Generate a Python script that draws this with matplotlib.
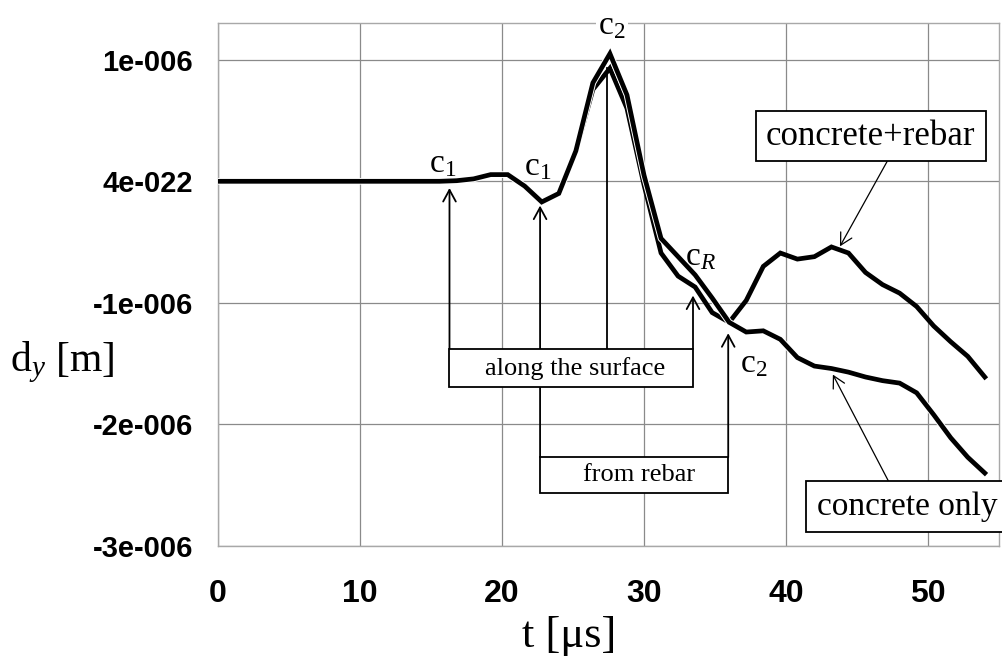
import matplotlib
matplotlib.use("Agg")
import matplotlib.pyplot as plt
from matplotlib.patches import Rectangle
import matplotlib.patheffects as pe

plt.rcParams['mathtext.fontset'] = 'custom'
plt.rcParams['mathtext.rm'] = 'Liberation Serif'
plt.rcParams['mathtext.it'] = 'Liberation Serif:italic'
plt.rcParams['mathtext.bf'] = 'Liberation Serif:bold'

# ---- data (displacement in units of 1e-6 m) ----
t_us = [0.0, 1.2, 2.4, 3.6, 4.8, 6.0, 7.2, 8.4, 9.6, 10.8, 12.0, 13.2, 14.4, 15.6,
        16.8, 18.0, 19.2, 20.4, 21.6, 22.8, 24.0, 25.2, 26.4, 27.6, 28.8, 30.0,
        31.2, 32.4, 33.6, 34.8, 36.0, 37.2, 38.4, 39.6, 40.8, 42.0, 43.2, 44.4,
        45.6, 46.8, 48.0, 49.2, 50.4, 51.6, 52.8, 54.0]

concrete_rebar = [0, 0, 0, 0, 0, 0, 0, 0, 0, 0, 0, 0, 0, 0,
                  0.005, 0.02, 0.055, 0.055, -0.04, -0.17, -0.10, 0.25, 0.755, 0.93, 0.60, -0.03,
                  -0.59, -0.78, -0.87, -1.08, -1.16, -0.98, -0.70, -0.59, -0.64, -0.62, -0.54, -0.59,
                  -0.75, -0.85, -0.92, -1.03, -1.19, -1.32, -1.44, -1.61]

concrete_only = [0, 0, 0, 0, 0, 0, 0, 0, 0, 0, 0, 0, 0, 0,
                 0.005, 0.02, 0.055, 0.055, -0.04, -0.17, -0.10, 0.25, 0.81, 1.05, 0.71, 0.05,
                 -0.47, -0.62, -0.77, -0.96, -1.16, -1.24, -1.23, -1.30, -1.45, -1.52, -1.54, -1.57,
                 -1.61, -1.64, -1.66, -1.74, -1.92, -2.11, -2.27, -2.40]

x_ticks = [0, 10, 20, 30, 40, 50]
y_ticks = [1, 0, -1, -2, -3]
y_tick_labels = ['1e-006', '4e-022', '-1e-006', '-2e-006', '-3e-006']

SERIF = 'Liberation Serif'
SANS = 'Liberation Sans'

fig = plt.figure(figsize=(10.02, 6.61), dpi=100)
ax = fig.add_axes([0.2176, 0.1740, 0.7794, 0.7908])
ax.set_xlim(0, 55)
ax.set_ylim(-3, 1.3)

ax.set_xticks(x_ticks)
ax.set_xticklabels([str(v) for v in x_ticks], fontfamily=SANS, fontsize=23,
                   fontweight='bold')
ax.set_yticks(y_ticks)
ax.set_yticklabels(y_tick_labels, fontfamily=SANS, fontsize=21, fontweight='bold')
ax.tick_params(axis='both', length=0)
ax.tick_params(axis='y', pad=18)
ax.tick_params(axis='x', pad=24)
ax.grid(True, color='#8a8a8a', lw=0.9)
ax.set_axisbelow(True)
for s in ax.spines.values():
    s.set_color('#a8a8a8')
    s.set_linewidth(1.0)

# curves
ax.plot(t_us, concrete_rebar, color='black', lw=3.4, solid_joinstyle='miter', zorder=4)
ax.plot(t_us, concrete_only, color='black', lw=3.4, solid_joinstyle='miter', zorder=4,
        path_effects=[pe.Stroke(linewidth=4.8, foreground='white'), pe.Normal()])

# axis labels
fig.text(10 / 1002, 1 - 362 / 661, r'd$_y$ [m]', fontfamily=SERIF, fontsize=30,
         ha='left', va='center')
fig.text(569 / 1002, 0.038, 't [μs]', fontfamily=SERIF, fontsize=32,
         ha='center', va='center')

# boxes
def box(x0, x1, y0, y1):
    r = Rectangle((x0, y0), x1 - x0, y1 - y0, facecolor='white', edgecolor='black',
                  lw=1.3, zorder=6, clip_on=False)
    ax.add_patch(r)

box(16.3, 33.45, -1.694, -1.38)
ax.text(25.16, -1.54, 'along the surface', fontfamily=SERIF, fontsize=19,
        ha='center', va='center', zorder=7)
box(22.68, 35.93, -2.562, -2.27)
ax.text(29.64, -2.42, 'from rebar', fontfamily=SERIF, fontsize=19,
        ha='center', va='center', zorder=7)
box(37.87, 54.1, 0.165, 0.577)
ax.text(45.95, 0.37, 'concrete+rebar', fontfamily=SERIF, fontsize=25,
        ha='center', va='center', zorder=7)
box(41.44, 58.0, -2.883, -2.463)
ax.text(42.2, -2.675, 'concrete only', fontfamily=SERIF, fontsize=24,
        ha='left', va='center', zorder=7, clip_on=False)

# vertical arrows from boxes
arrow_kw = dict(arrowstyle='->,head_length=0.7,head_width=0.38', color='black',
                lw=1.3, mutation_scale=12, shrinkA=0, shrinkB=0)
for (x, y0, y1) in [(16.3, -1.38, -0.055), (22.68, -2.27, -0.20),
                    (33.45, -1.38, -0.94), (35.93, -2.27, -1.25)]:
    ax.annotate('', xy=(x, y1), xytext=(x, y0), arrowprops=arrow_kw, zorder=3)
ax.plot([27.4, 27.4], [-1.38, 0.93], color='black', lw=1.3, zorder=3)

thin_kw = dict(arrowstyle='->,head_length=0.7,head_width=0.38', color='black',
               lw=0.9, mutation_scale=12, shrinkA=0, shrinkB=0)
ax.annotate('', xy=(43.8, -0.535), xytext=(47.13, 0.165), arrowprops=thin_kw, zorder=5)
ax.annotate('', xy=(43.3, -1.59), xytext=(47.2, -2.463), arrowprops=thin_kw, zorder=5)

# wave labels
lab_kw = dict(fontfamily=SERIF, fontsize=24, ha='center', va='center', zorder=8)
ax.text(15.85, 0.14, r'c$_1$', **lab_kw)
ax.text(22.5, 0.12, r'c$_1$', **lab_kw)
ax.text(34.0, -0.62, r'c$_R$', **lab_kw)
ax.text(37.7, -1.50, r'c$_2$', **lab_kw)
ax.text(27.75, 1.28, r'c$_2$', clip_on=False,
        bbox=dict(facecolor='white', edgecolor='none', pad=2), **lab_kw)

fig.savefig('out.png', dpi=100)
